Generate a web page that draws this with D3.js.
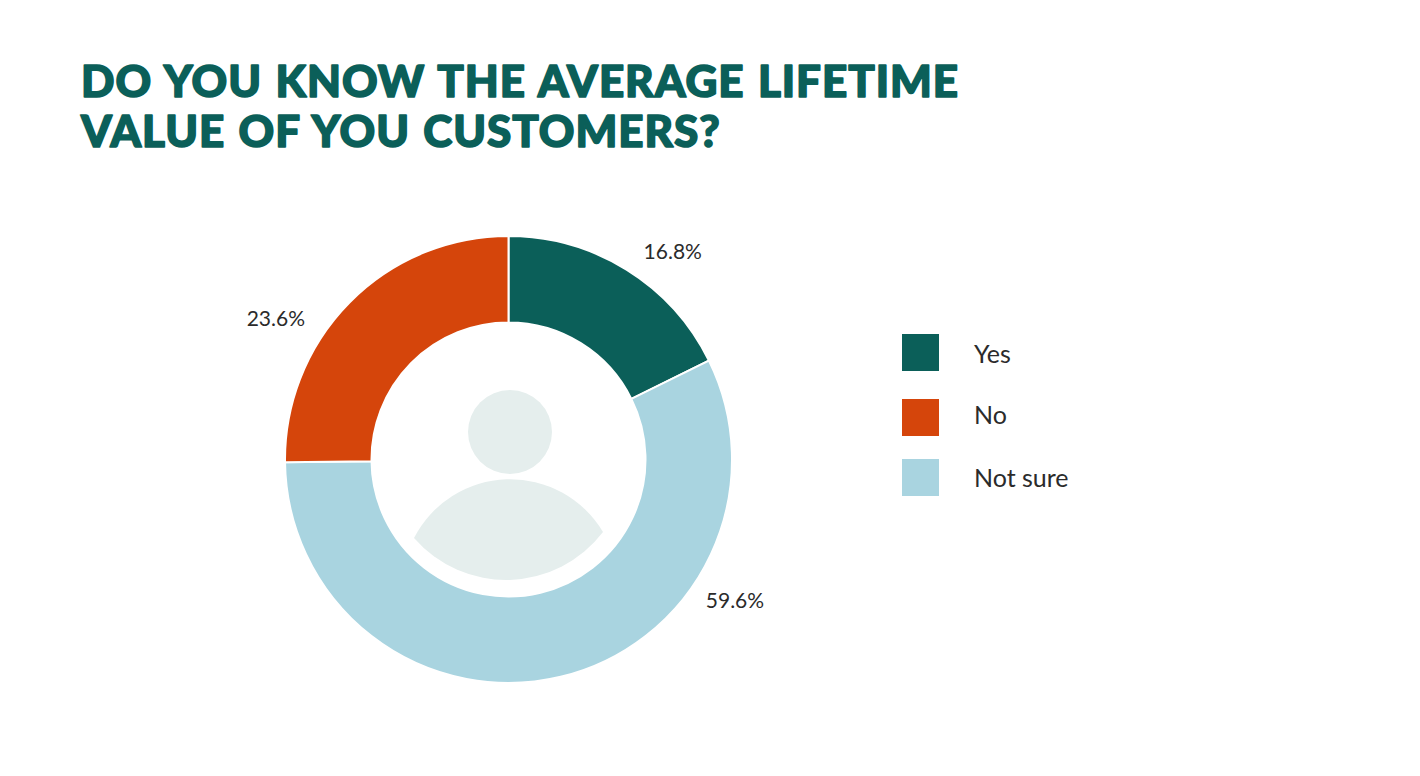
<!DOCTYPE html>
<html lang="en">
<head>
  <meta charset="UTF-8">
  <title>Average lifetime value</title>
  <style>
    html, body { margin: 0; background: #fff; }
  </style>
</head>
<body>
  <script src="https://d3js.org/d3.v7.min.js"></script>
  <script>
    const titleLines = ['DO YOU KNOW THE AVERAGE LIFETIME', 'VALUE OF YOU CUSTOMERS?'];
    const categories = ['Yes', 'Not sure', 'No'];
    // slice sizes as drawn, they differ a little from the printed labels
    const shares = [17.7, 57.1, 25.2];
    const labels = ['16.8%', '59.6%', '23.6%'];
    const legendOrder = ['Yes', 'No', 'Not sure'];

    const width = 1420;
    const height = 776;
    const cx = 508.5;
    const cy = 459.5;
    const outerR = 223.5;
    const innerR = 137;
    // degrees clockwise from the top, the labels don't sit on the slice middles
    const labelAngles = [38.3, 122, 301.2];
    const labelRadii = [265, 267, 272];
    const legendTops = [334, 399, 459];
    const legendTextY = [29, 25, 28];

    const color = d3.scaleOrdinal()
      .domain(['Yes', 'No', 'Not sure'])
      .range(['#0b5f59', '#d5450b', '#a9d4e0']);

    const svg = d3.select('body')
      .append('svg')
      .attr('width', width)
      .attr('height', height)
      .style('display', 'block');

    svg.append('g')
      .selectAll('text')
      .data(titleLines)
      .join('text')
      .attr('x', 81)
      .attr('y', (d, i) => 97 + i * 50)
      .attr('font-family', 'Lato')
      .attr('font-weight', 900)
      .attr('font-size', 44)
      .attr('letter-spacing', 0.95)
      .attr('word-spacing', 2)
      .attr('fill', '#0b5f59')
      .attr('stroke', '#0b5f59')
      .attr('stroke-width', 1.6)
      .attr('stroke-linejoin', 'round')
      .text(d => d);

    const ds = categories.map((name, i) => ({ name, share: shares[i], label: labels[i] }));
    const pie = d3.pie().sort(null).value(d => d.share);
    const arc = d3.arc().innerRadius(innerR).outerRadius(outerR);
    const arcs = pie(ds);

    const chart = svg.append('g')
      .attr('transform', `translate(${cx}, ${cy})`);

    chart.selectAll('path')
      .data(arcs)
      .join('path')
      .attr('d', arc)
      .attr('fill', d => color(d.data.name))
      .attr('stroke', '#fff')
      .attr('stroke-width', 2);

    chart.selectAll('text')
      .data(arcs)
      .join('text')
      .attr('transform', (d, i) => {
        const a = labelAngles[i] * Math.PI / 180;
        const spot = d3.arc().innerRadius(labelRadii[i]).outerRadius(labelRadii[i]);
        return `translate(${spot.centroid({ startAngle: a, endAngle: a })})`;
      })
      .attr('text-anchor', 'middle')
      .attr('dy', '0.35em')
      .attr('font-family', 'Lato')
      .attr('font-size', 21)
      .attr('fill', '#2b2b2b')
      .text(d => d.data.label);

    // person icon in the hole
    const icon = svg.append('g').attr('fill', '#e5eeed');
    icon.append('circle')
      .attr('cx', 510)
      .attr('cy', 432)
      .attr('r', 42);
    icon.append('path')
      .attr('d', 'M414,538 A108,108 0 0 1 603,532 A122,122 0 0 1 414,538 Z');

    const legend = svg.append('g')
      .selectAll('g')
      .data(legendOrder)
      .join('g')
      .attr('transform', (d, i) => `translate(902, ${legendTops[i]})`);

    legend.append('rect')
      .attr('width', 37)
      .attr('height', 37)
      .attr('fill', d => color(d));

    legend.append('text')
      .attr('x', 72)
      .attr('y', (d, i) => legendTextY[i])
      .attr('font-family', 'Lato')
      .attr('font-size', 25)
      .attr('fill', '#2b2b2b')
      .text(d => d);
  </script>
</body>
</html>
